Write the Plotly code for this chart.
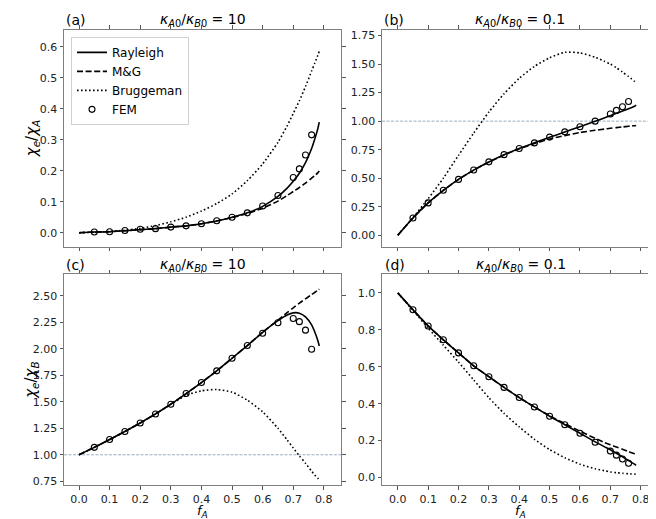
import plotly.graph_objects as go

# ---------------- data ----------------
f_line = [0, 0.05, 0.1, 0.15, 0.2, 0.25, 0.3, 0.35, 0.4, 0.45, 0.5, 0.55, 0.6, 0.65,
          0.68, 0.7, 0.72, 0.74, 0.76, 0.77, 0.78, 0.785]
f_fem = [0.05, 0.1, 0.15, 0.2, 0.25, 0.3, 0.35, 0.4, 0.45, 0.5, 0.55, 0.6, 0.65,
         0.7, 0.72, 0.74, 0.76]

# (a) kA0/kB0 = 10, chi_e/chi_A
ray_a = [0, 0.002, 0.003, 0.006, 0.010, 0.013, 0.018, 0.022, 0.029, 0.038, 0.050, 0.064, 0.085,
         0.117, 0.144, 0.166, 0.192, 0.226, 0.272, 0.302, 0.335, 0.357]
mg_a = [0, 0.002, 0.003, 0.006, 0.010, 0.013, 0.018, 0.022, 0.029, 0.038, 0.049, 0.062, 0.079,
        0.102, 0.120, 0.133, 0.146, 0.160, 0.176, 0.184, 0.193, 0.199]
br_a = [0, 0.001, 0.004, 0.008, 0.014, 0.023, 0.035, 0.050, 0.070, 0.094, 0.125, 0.168, 0.222,
        0.292, 0.345, 0.385, 0.426, 0.472, 0.522, 0.547, 0.572, 0.586]
fem_a = [0.002, 0.003, 0.007, 0.011, 0.013, 0.018, 0.022, 0.029, 0.0385, 0.050, 0.064, 0.086,
         0.120, 0.178, 0.206, 0.251, 0.316]

# (b) kA0/kB0 = 0.1, chi_e/chi_A
ray_b = [0, 0.151, 0.283, 0.393, 0.489, 0.571, 0.642, 0.705, 0.760, 0.810, 0.858, 0.905, 0.951,
         0.998, 1.028, 1.048, 1.068, 1.088, 1.108, 1.119, 1.130, 1.140]
mg_b = [0, 0.151, 0.283, 0.393, 0.489, 0.571, 0.641, 0.703, 0.757, 0.803, 0.843, 0.873, 0.900,
        0.920, 0.930, 0.937, 0.943, 0.949, 0.955, 0.958, 0.960, 0.962]
br_b = [0, 0.155, 0.320, 0.500, 0.700, 0.895, 1.080, 1.240, 1.375, 1.480, 1.555, 1.603, 1.598,
        1.560, 1.525, 1.500, 1.468, 1.430, 1.390, 1.370, 1.348, 1.335]
fem_b = [0.151, 0.283, 0.394, 0.489, 0.571, 0.643, 0.706, 0.760, 0.809, 0.860, 0.906, 0.951,
         1.000, 1.063, 1.094, 1.126, 1.172]

# (c) kA0/kB0 = 10, chi_e/chi_B
ray_c = [1.0, 1.070, 1.144, 1.220, 1.300, 1.385, 1.477, 1.577, 1.681, 1.791, 1.910, 2.030, 2.155,
         2.265, 2.318, 2.338, 2.335, 2.300, 2.225, 2.160, 2.080, 2.025]
mg_c = [1.0, 1.070, 1.144, 1.220, 1.300, 1.385, 1.477, 1.577, 1.681, 1.791, 1.910, 2.030, 2.155,
        2.270, 2.340, 2.385, 2.430, 2.470, 2.510, 2.530, 2.550, 2.562]
br_c = [1.0, 1.070, 1.144, 1.220, 1.300, 1.385, 1.475, 1.560, 1.603, 1.615, 1.590, 1.515, 1.405,
        1.250, 1.140, 1.064, 0.990, 0.920, 0.845, 0.810, 0.780, 0.765]
fem_c = [1.070, 1.144, 1.220, 1.300, 1.385, 1.477, 1.577, 1.681, 1.791, 1.910, 2.030, 2.146,
         2.245, 2.285, 2.255, 2.175, 1.995]

# (d) kA0/kB0 = 0.1, chi_e/chi_B
ray_d = [1.0, 0.909, 0.821, 0.746, 0.675, 0.605, 0.546, 0.488, 0.433, 0.382, 0.332, 0.286, 0.240,
         0.193, 0.167, 0.150, 0.131, 0.112, 0.092, 0.082, 0.072, 0.066]
mg_d = [1.0, 0.909, 0.821, 0.746, 0.675, 0.605, 0.546, 0.488, 0.433, 0.382, 0.334, 0.292, 0.251,
        0.212, 0.190, 0.177, 0.165, 0.153, 0.140, 0.134, 0.128, 0.125]
br_d = [1.0, 0.905, 0.809, 0.717, 0.625, 0.528, 0.432, 0.347, 0.274, 0.207, 0.151, 0.107, 0.072,
        0.047, 0.037, 0.030, 0.026, 0.023, 0.020, 0.019, 0.018, 0.018]
fem_d = [0.909, 0.821, 0.746, 0.675, 0.605, 0.546, 0.488, 0.433, 0.382, 0.332, 0.286, 0.240,
         0.191, 0.143, 0.121, 0.100, 0.077]

panel_labels = ["(a)", "(b)", "(c)", "(d)"]
ratio_titles = ["10", "0.1", "10", "0.1"]
x_ticks = [0.0, 0.1, 0.2, 0.3, 0.4, 0.5, 0.6, 0.7, 0.8]
y_ticks_a = [0.0, 0.1, 0.2, 0.3, 0.4, 0.5, 0.6]
y_ticks_b = [0.0, 0.25, 0.5, 0.75, 1.0, 1.25, 1.5, 1.75]
y_ticks_c = [0.75, 1.0, 1.25, 1.5, 1.75, 2.0, 2.25, 2.5]
y_ticks_d = [0.0, 0.2, 0.4, 0.6, 0.8, 1.0]

# ---------------- figure ----------------
W, H = 656, 519
FONT = "DejaVu Sans"
fig = go.Figure()

panels = [
    ("x", "y", ray_a, mg_a, br_a, fem_a),
    ("x2", "y2", ray_b, mg_b, br_b, fem_b),
    ("x3", "y3", ray_c, mg_c, br_c, fem_c),
    ("x4", "y4", ray_d, mg_d, br_d, fem_d),
]
LW = 1.6
for i, (xa, ya, r, m, b, fe) in enumerate(panels):
    show = (i == 0)
    fig.add_trace(go.Scatter(x=f_line, y=r, mode="lines", name="Rayleigh", xaxis=xa, yaxis=ya,
                             line=dict(color="black", width=LW, shape="spline", smoothing=0.6),
                             showlegend=show))
    fig.add_trace(go.Scatter(x=f_line, y=m, mode="lines", name="M&G", xaxis=xa, yaxis=ya,
                             line=dict(color="black", width=LW, dash="6px,2.6px",
                                       shape="spline", smoothing=0.6),
                             showlegend=show))
    fig.add_trace(go.Scatter(x=f_line, y=b, mode="lines", name="Bruggeman", xaxis=xa, yaxis=ya,
                             line=dict(color="black", width=LW, dash="1.6px,2.4px",
                                       shape="spline", smoothing=0.6),
                             showlegend=show))
    fig.add_trace(go.Scatter(x=f_fem, y=fe, mode="markers", name="FEM", xaxis=xa, yaxis=ya,
                             marker=dict(symbol="circle-open", size=6, color="black",
                                         line=dict(width=1.1, color="black")),
                             showlegend=show))

def px_x(p):
    return p / W

def px_y(p):
    return 1 - p / H

dom_x_left = [px_x(56), px_x(333)]
dom_x_right = [px_x(374), px_x(650)]
dom_y_top = [px_y(240), px_y(22)]
dom_y_bot = [px_y(480), px_y(268)]

axis_common = dict(showgrid=False, zeroline=False, showline=True, linecolor="#7f7f7f",
                   linewidth=1, mirror="allticks", ticks="outside", ticklen=3.5,
                   tickwidth=1, tickcolor="#555555",
                   tickfont=dict(family=FONT, size=11, color="#222222"))

xr_left = [-0.049, 0.856]
xr_right = [-0.052, 0.857]

fig.update_layout(
    xaxis=dict(domain=dom_x_left, range=xr_left, anchor="y", tickvals=x_ticks,
               showticklabels=False, **axis_common),
    yaxis=dict(domain=dom_y_top, range=[-0.045, 0.655], anchor="x", tickvals=y_ticks_a,
               tickformat=".1f", **axis_common),
    xaxis2=dict(domain=dom_x_right, range=xr_right, anchor="y2", tickvals=x_ticks,
                showticklabels=False, **axis_common),
    yaxis2=dict(domain=dom_y_top, range=[-0.10, 1.80], anchor="x2", tickvals=y_ticks_b,
                tickformat=".2f", **axis_common),
    xaxis3=dict(domain=dom_x_left, range=xr_left, anchor="y3", tickvals=x_ticks,
                tickformat=".1f", **axis_common),
    yaxis3=dict(domain=dom_y_bot, range=[0.713, 2.70], anchor="x3", tickvals=y_ticks_c,
                tickformat=".2f", **axis_common),
    xaxis4=dict(domain=dom_x_right, range=xr_right, anchor="y4", tickvals=x_ticks,
                tickformat=".1f", **axis_common),
    yaxis4=dict(domain=dom_y_bot, range=[-0.042, 1.10], anchor="x4", tickvals=y_ticks_d,
                tickformat=".1f", **axis_common),
)

# reference line at 1.0 in (b) and (c)
for xa, ya in [("x2", "y2"), ("x3", "y3")]:
    fig.add_shape(type="line", xref=f"{xa} domain", yref=ya, x0=0, x1=1, y0=1.0, y1=1.0,
                  line=dict(color="#8fa8bc", width=0.9, dash="3px,1.5px"), layer="below")

# titles
annos = []
lefts = [56, 374, 56, 375]
rights = [333, 650, 333, 650]
tops = [12, 12, 258, 258]
for i in range(4):
    annos.append(dict(x=px_x(lefts[i]), y=px_y(tops[i]), xref="paper", yref="paper",
                      text=panel_labels[i], showarrow=False, xanchor="left", yanchor="middle",
                      font=dict(family=FONT, size=14, color="black")))
    annos.append(dict(x=px_x((lefts[i] + rights[i]) / 2), y=px_y(tops[i]), xref="paper",
                      yref="paper",
                      text="<i>κ</i><sub><i>A</i>0</sub>/<i>κ</i><sub><i>B</i>0</sub> = "
                           + ratio_titles[i],
                      showarrow=False, xanchor="center", yanchor="middle",
                      font=dict(family=FONT, size=14, color="black")))
# y axis titles
annos.append(dict(x=px_x(24), y=px_y(131), xref="paper", yref="paper",
                  text="<i>χ</i><sub><i>e</i></sub>/<i>χ</i><sub><i>A</i></sub>",
                  showarrow=False, textangle=-90, xanchor="center", yanchor="middle",
                  font=dict(family=FONT, size=15, color="black")))
annos.append(dict(x=px_x(24), y=px_y(374), xref="paper", yref="paper",
                  text="<i>χ</i><sub><i>e</i></sub>/<i>χ</i><sub><i>B</i></sub>",
                  showarrow=False, textangle=-90, xanchor="center", yanchor="middle",
                  font=dict(family=FONT, size=15, color="black")))
# x axis titles
for cx in [(56 + 333) / 2, (375 + 650) / 2]:
    annos.append(dict(x=px_x(cx), y=px_y(517), xref="paper", yref="paper",
                      text="<i>f</i><sub><i>A</i></sub>", showarrow=False,
                      xanchor="center", yanchor="bottom",
                      font=dict(family=FONT, size=13, color="black")))

fig.update_layout(
    annotations=annos,
    width=W, height=H,
    margin=dict(l=0, r=0, t=0, b=0),
    paper_bgcolor="white", plot_bgcolor="white",
    font=dict(family=FONT, size=12, color="black"),
    legend=dict(x=px_x(63), y=px_y(29), xanchor="left", yanchor="top",
                bgcolor="rgba(255,255,255,0.9)", bordercolor="#d0d0d0", borderwidth=1,
                font=dict(family=FONT, size=12, color="black"), tracegroupgap=0,
                itemwidth=30),
)

fig.write_html("out.html")
